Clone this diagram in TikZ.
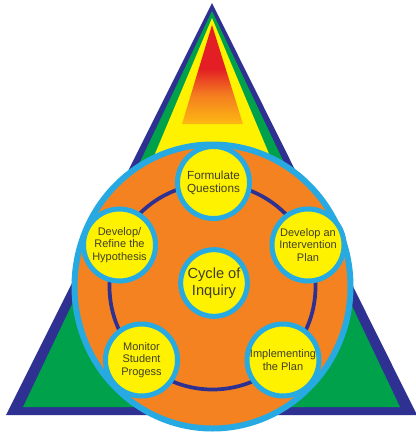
\documentclass[tikz,border=0pt]{standalone}
\usepackage{fontspec}
\setmainfont{Liberation Sans}
\definecolor{navyc}{HTML}{2E3192}
\definecolor{greenc}{HTML}{00A14B}
\definecolor{yellowc}{HTML}{FFF200}
\definecolor{orangec}{HTML}{F58220}
\definecolor{cyanc}{HTML}{27AAE1}
\definecolor{redc}{HTML}{E31E24}
\definecolor{midc}{HTML}{F47B20}
\definecolor{lowc}{HTML}{FDB913}
\definecolor{textc}{HTML}{3F3F28}
\pgfdeclareverticalshading{trishade}{100bp}{color(0bp)=(lowc); color(25bp)=(lowc); color(40bp)=(midc); color(53bp)=(redc); color(100bp)=(redc)}
\begin{document}
\begin{tikzpicture}[x=0.75pt,y=-0.75pt,
  stage/.style={circle, draw=cyanc, line width=3.75pt, fill=yellowc, inner sep=0pt,
    minimum size=54pt, align=center, text=textc,
    font=\fontsize{8.25}{9.6}\selectfont},
  hub/.style={stage, minimum size=50pt, font=\fontsize{11}{13}\selectfont}]
\useasboundingbox (0,0) rectangle (415,432);
% triangle layers
\fill[navyc] (212,3) -- (417,415) -- (6,415) -- cycle;
\fill[greenc] (212,11) -- (400,407) -- (23,407) -- cycle;
\fill[yellowc] (212,18) -- (301,230) -- (123,230) -- cycle;
\shade[shading=trishade] (212,25) -- (243,124) -- (182,124) -- cycle;
% big circle
\draw[cyanc, line width=4.5pt, fill=orangec] (212.5,286.5) ellipse [x radius=138, y radius=142];
% ring
\draw[navyc, line width=2.8pt] (212.5,286.5) circle [radius=103];
% stages
\node[stage, font=\fontsize{8.8}{9.8}\selectfont] (fq) at (213.5,182.5) {Formulate\\Questions};
\node[stage] (dip) at (308,245) {Develop an\\Intervention\\Plan};
\node[stage] (ip) at (283,360) {Implementing\\the Plan};
\node[stage] (msp) at (141.5,360) {Monitor\\Student\\Progess};
\node[stage] (drh) at (119.5,245) {Develop/\\Refine the\\Hypothesis};
\node[hub] (ci) at (214,283) {Cycle of\\Inquiry};
\end{tikzpicture}
\end{document}
